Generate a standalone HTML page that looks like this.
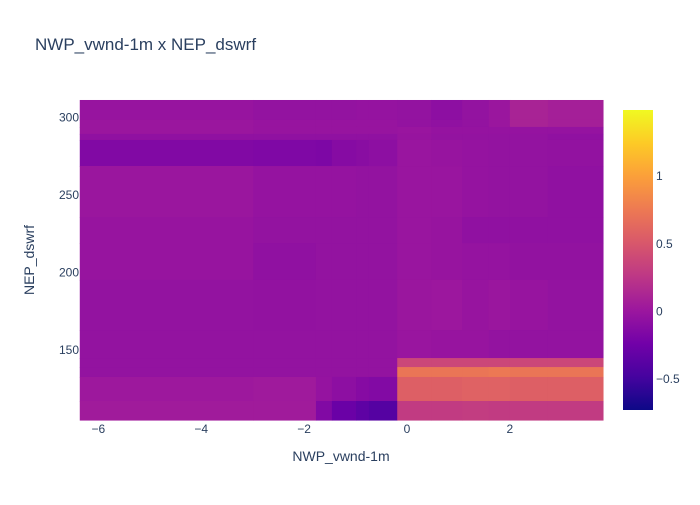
<!DOCTYPE html>
<html><head><meta charset="utf-8"><style>
body{margin:0;background:#fff;font-family:"Liberation Sans",sans-serif;}
svg text{font-family:"Liberation Sans",sans-serif;fill:#2a3f5f;}
</style></head><body>
<svg id="chart" width="700" height="500" xmlns="http://www.w3.org/2000/svg">
<defs><linearGradient id="cbgrad" x1="0" y1="1" x2="0" y2="0">
<stop offset="0" stop-color="#0d0887"/><stop offset="0.111" stop-color="#46039f"/><stop offset="0.222" stop-color="#7201a8"/><stop offset="0.333" stop-color="#9c179e"/><stop offset="0.444" stop-color="#bd3786"/><stop offset="0.556" stop-color="#d8576b"/><stop offset="0.667" stop-color="#ed7953"/><stop offset="0.778" stop-color="#fb9f3a"/><stop offset="0.889" stop-color="#fdca26"/><stop offset="1" stop-color="#f0f921"/>
</linearGradient></defs>
<text x="35" y="50" font-size="17">NWP_vwnd-1m x NEP_dswrf</text>
<g id="cells"></g>
<g id="xticks"></g>
<g id="yticks"></g>
<text x="341" y="461" font-size="14" text-anchor="middle">NWP_vwnd-1m</text>
<text transform="translate(34,260) rotate(-90)" font-size="14" text-anchor="middle">NEP_dswrf</text>
<rect x="623" y="110" width="30" height="300" fill="url(#cbgrad)"/>
<g id="cbticks"></g>
</svg>
<script>
const xEdges=[-6.36,-2.99,-1.77,-1.46,-0.99,-0.74,-0.19,0.47,1.07,1.59,2.0,2.74,3.81];
const yEdges=[311.3,298.4,293.9,289.4,285.5,268.7,235.8,219.0,195.2,162.9,144.8,139.0,132.6,117.1,104.8];
const zRows=[
[-0.02,-0.04,-0.04,-0.04,-0.03,-0.03,-0.04,-0.08,-0.04,0.0,0.1,0.07],
[0.0,-0.02,-0.02,-0.02,-0.02,-0.02,-0.04,-0.06,-0.04,0.0,0.1,0.07],
[0.0,-0.02,-0.02,-0.02,-0.02,-0.02,-0.01,-0.03,-0.03,-0.03,-0.03,-0.03],
[-0.06,-0.06,-0.06,-0.06,-0.06,-0.06,-0.02,-0.04,-0.04,-0.04,-0.04,-0.06],
[-0.15,-0.16,-0.17,-0.12,-0.1,-0.08,-0.01,-0.02,-0.03,-0.04,-0.04,-0.05],
[0.0,-0.03,-0.03,-0.03,-0.04,-0.04,-0.01,-0.01,-0.03,-0.04,-0.04,-0.06],
[-0.02,-0.04,-0.04,-0.04,-0.04,-0.04,-0.01,-0.02,-0.06,-0.06,-0.06,-0.06],
[-0.02,-0.06,-0.04,-0.04,-0.04,-0.04,-0.01,-0.02,-0.03,-0.03,-0.05,-0.05],
[-0.04,-0.05,-0.04,-0.04,-0.04,-0.04,0.0,0.01,-0.02,0.0,-0.02,-0.04],
[-0.04,-0.04,-0.04,-0.04,-0.04,-0.04,-0.01,-0.02,-0.02,-0.04,-0.04,-0.04],
[-0.04,-0.04,-0.04,-0.04,-0.04,-0.04,0.38,0.38,0.38,0.38,0.38,0.38],
[-0.04,-0.04,-0.04,-0.04,-0.04,-0.04,0.72,0.72,0.72,0.74,0.72,0.72],
[0.02,0.03,-0.03,-0.08,-0.12,-0.14,0.56,0.56,0.58,0.58,0.56,0.56],
[0.04,0.04,-0.15,-0.28,-0.35,-0.4,0.29,0.29,0.30,0.29,0.29,0.29]
];
const xTicks=[-6,-4,-2,0,2];
const yTicks=[150,200,250,300];
const cbTicks=[-0.5,0,0.5,1];
const zMin=-0.73,zMax=1.49;
const NS='http://www.w3.org/2000/svg';
const xs=v=>407+(v)*51.45;
const ys=v=>350-(v-150)*1.55;
const cs=v=>410-(v-zMin)/(zMax-zMin)*300;
const stops=[[13,8,135],[70,3,159],[114,1,168],[156,23,158],[189,55,134],[216,87,107],[237,121,83],[251,159,58],[253,202,38],[240,249,33]];
function color(z){let t=Math.max(0,Math.min(1,(z-zMin)/(zMax-zMin)))*9;let i=Math.min(8,Math.floor(t)),f=t-i;
const c=stops[i].map((a,k)=>Math.round(a+(stops[i+1][k]-a)*f));return `rgb(${c})`;}
function el(tag,attrs,parent){const e=document.createElementNS(NS,tag);for(const k in attrs)e.setAttribute(k,attrs[k]);parent.appendChild(e);return e;}
const cells=document.getElementById('cells');
zRows.forEach((row,r)=>row.forEach((z,c)=>{
 const x0=xs(xEdges[c]),x1=xs(xEdges[c+1]),y0=ys(yEdges[r]),y1=ys(yEdges[r+1]);
 const e=el('rect',{x:x0,y:y0,width:x1-x0+0.5,height:y1-y0+0.5,fill:color(z)},cells);
 
 
}));
const xg=document.getElementById('xticks');
xTicks.forEach(v=>{const t=el('text',{x:xs(v),y:433,'font-size':12,'text-anchor':'middle'},xg);t.textContent=String(v).replace('-','\u2212');
 
 });
const yg=document.getElementById('yticks');
yTicks.forEach(v=>{const t=el('text',{x:79,y:ys(v)+4,'font-size':12,'text-anchor':'end'},yg);t.textContent=v;
 
 });
const cg=document.getElementById('cbticks');
cbTicks.forEach(v=>{const t=el('text',{x:656,y:cs(v)+4,'font-size':12},cg);t.textContent=String(v).replace('-','\u2212');
 
 });
</script>
</body></html>
